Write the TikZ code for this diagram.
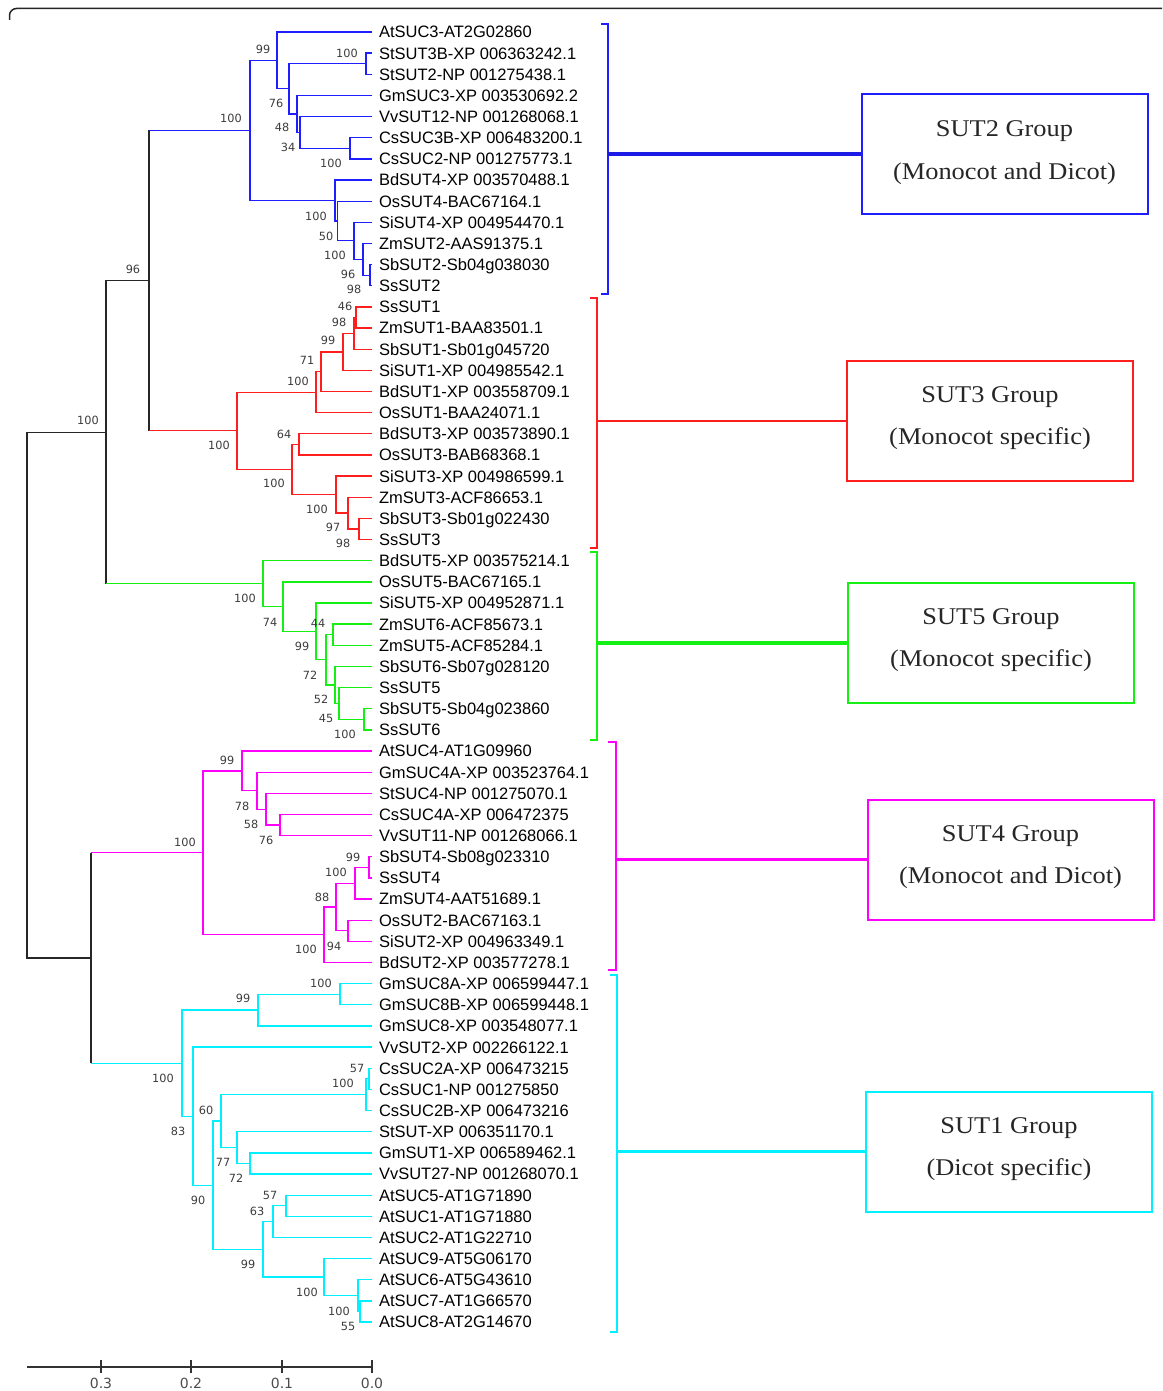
\documentclass[tikz,border=0pt]{standalone}
\usepackage{fontspec}
\newfontfamily\leaffam{Liberation Sans}
\newfontfamily\bsfam{DejaVu Sans}
\newfontfamily\grpfam[FakeStretch=1.1]{Liberation Serif}
\definecolor{tb}{RGB}{30,30,255}
\definecolor{tr}{RGB}{255,30,30}
\definecolor{tg}{RGB}{20,240,20}
\definecolor{tm}{RGB}{255,0,255}
\definecolor{tc}{RGB}{0,240,255}
\definecolor{bsgray}{RGB}{60,60,60}
\definecolor{axgray}{RGB}{50,50,50}
\newcommand\mkclade[4]{\draw[br,#1] (#3) -| (#2) |- (#4);}
\begin{document}
\begin{tikzpicture}[x=1pt,y=-1pt,
  br/.style={line width=1.3pt},
  tk/.style={br,black!85},
  leaf/.style={anchor=west,inner xsep=7pt,inner ysep=0pt,outer sep=0pt,text=black,
    font={\leaffam\fontsize{16.5pt}{18pt}\selectfont},text height=11.8pt,text depth=0pt},
  bs/.style={inner sep=0pt,text=bsgray,font={\bsfam\fontsize{11.3pt}{13pt}\selectfont}},
  brk/.style={line width=1.6pt},
  conn/.style={line width=#1},
  gbox/.style={draw,line width=2pt,minimum width=286pt,minimum height=120pt,inner sep=0pt},
  gtxt/.style={anchor=base,inner sep=0pt,text=black!85,font={\grpfam\fontsize{24pt}{26pt}\selectfont}},
  axl/.style={inner sep=0pt,text=black!70,font={\bsfam\fontsize{14pt}{16pt}\selectfont}}
]
\useasboundingbox (0,0) rectangle (1162,1391);
% top frame line
\draw[line width=1.5pt,black!85,rounded corners=7pt] (9.5,20) |- (1162,8.5);

% ---------- leaves ----------
\node[leaf] (l1) at (372,32.00) {AtSUC3-AT2G02860};
\node[leaf] (l2) at (372,53.15) {StSUT3B-XP 006363242.1};
\node[leaf] (l3) at (372,74.30) {StSUT2-NP 001275438.1};
\node[leaf] (l4) at (372,95.44) {GmSUC3-XP 003530692.2};
\node[leaf] (l5) at (372,116.59) {VvSUT12-NP 001268068.1};
\node[leaf] (l6) at (372,137.74) {CsSUC3B-XP 006483200.1};
\node[leaf] (l7) at (372,158.89) {CsSUC2-NP 001275773.1};
\node[leaf] (l8) at (372,180.04) {BdSUT4-XP 003570488.1};
\node[leaf] (l9) at (372,201.18) {OsSUT4-BAC67164.1};
\node[leaf] (l10) at (372,222.33) {SiSUT4-XP 004954470.1};
\node[leaf] (l11) at (372,243.48) {ZmSUT2-AAS91375.1};
\node[leaf] (l12) at (372,264.63) {SbSUT2-Sb04g038030};
\node[leaf] (l13) at (372,285.78) {SsSUT2};
\node[leaf] (l14) at (372,306.92) {SsSUT1};
\node[leaf] (l15) at (372,328.07) {ZmSUT1-BAA83501.1};
\node[leaf] (l16) at (372,349.22) {SbSUT1-Sb01g045720};
\node[leaf] (l17) at (372,370.37) {SiSUT1-XP 004985542.1};
\node[leaf] (l18) at (372,391.52) {BdSUT1-XP 003558709.1};
\node[leaf] (l19) at (372,412.66) {OsSUT1-BAA24071.1};
\node[leaf] (l20) at (372,433.81) {BdSUT3-XP 003573890.1};
\node[leaf] (l21) at (372,454.96) {OsSUT3-BAB68368.1};
\node[leaf] (l22) at (372,476.11) {SiSUT3-XP 004986599.1};
\node[leaf] (l23) at (372,497.26) {ZmSUT3-ACF86653.1};
\node[leaf] (l24) at (372,518.40) {SbSUT3-Sb01g022430};
\node[leaf] (l25) at (372,539.55) {SsSUT3};
\node[leaf] (l26) at (372,560.70) {BdSUT5-XP 003575214.1};
\node[leaf] (l27) at (372,581.85) {OsSUT5-BAC67165.1};
\node[leaf] (l28) at (372,603.00) {SiSUT5-XP 004952871.1};
\node[leaf] (l29) at (372,624.14) {ZmSUT6-ACF85673.1};
\node[leaf] (l30) at (372,645.29) {ZmSUT5-ACF85284.1};
\node[leaf] (l31) at (372,666.44) {SbSUT6-Sb07g028120};
\node[leaf] (l32) at (372,687.59) {SsSUT5};
\node[leaf] (l33) at (372,708.74) {SbSUT5-Sb04g023860};
\node[leaf] (l34) at (372,729.88) {SsSUT6};
\node[leaf] (l35) at (372,751.03) {AtSUC4-AT1G09960};
\node[leaf] (l36) at (372,772.18) {GmSUC4A-XP 003523764.1};
\node[leaf] (l37) at (372,793.33) {StSUC4-NP 001275070.1};
\node[leaf] (l38) at (372,814.48) {CsSUC4A-XP 006472375};
\node[leaf] (l39) at (372,835.62) {VvSUT11-NP 001268066.1};
\node[leaf] (l40) at (372,856.77) {SbSUT4-Sb08g023310};
\node[leaf] (l41) at (372,877.92) {SsSUT4};
\node[leaf] (l42) at (372,899.07) {ZmSUT4-AAT51689.1};
\node[leaf] (l43) at (372,920.22) {OsSUT2-BAC67163.1};
\node[leaf] (l44) at (372,941.36) {SiSUT2-XP 004963349.1};
\node[leaf] (l45) at (372,962.51) {BdSUT2-XP 003577278.1};
\node[leaf] (l46) at (372,983.66) {GmSUC8A-XP 006599447.1};
\node[leaf] (l47) at (372,1004.81) {GmSUC8B-XP 006599448.1};
\node[leaf] (l48) at (372,1025.96) {GmSUC8-XP 003548077.1};
\node[leaf] (l49) at (372,1047.10) {VvSUT2-XP 002266122.1};
\node[leaf] (l50) at (372,1068.25) {CsSUC2A-XP 006473215};
\node[leaf] (l51) at (372,1089.40) {CsSUC1-NP 001275850};
\node[leaf] (l52) at (372,1110.55) {CsSUC2B-XP 006473216};
\node[leaf] (l53) at (372,1131.70) {StSUT-XP 006351170.1};
\node[leaf] (l54) at (372,1152.84) {GmSUT1-XP 006589462.1};
\node[leaf] (l55) at (372,1173.99) {VvSUT27-NP 001268070.1};
\node[leaf] (l56) at (372,1195.14) {AtSUC5-AT1G71890};
\node[leaf] (l57) at (372,1216.29) {AtSUC1-AT1G71880};
\node[leaf] (l58) at (372,1237.44) {AtSUC2-AT1G22710};
\node[leaf] (l59) at (372,1258.58) {AtSUC9-AT5G06170};
\node[leaf] (l60) at (372,1279.73) {AtSUC6-AT5G43610};
\node[leaf] (l61) at (372,1300.88) {AtSUC7-AT1G66570};
\node[leaf] (l62) at (372,1322.03) {AtSUC8-AT2G14670};

% ---------- SUT2 clade ----------
\coordinate (a1) at (366,63.73);  \mkclade{tb}{a1}{l2.west}{l3.west}
\coordinate (a2) at (350,148.32); \mkclade{tb}{a2}{l6.west}{l7.west}
\coordinate (a3) at (300,132.45); \mkclade{tb}{a3}{l5.west}{a2}
\coordinate (a4) at (297,113.95); \mkclade{tb}{a4}{l4.west}{a3}
\coordinate (a5) at (289,88.84);  \mkclade{tb}{a5}{a1}{a4}
\coordinate (a6) at (277,60.42);  \mkclade{tb}{a6}{l1.west}{a5}
\coordinate (a7) at (370,275.20); \mkclade{tb}{a7}{l12.west}{l13.west}
\coordinate (a8) at (363,259.34); \mkclade{tb}{a8}{l11.west}{a7}
\coordinate (a9) at (354,240.84); \mkclade{tb}{a9}{l10.west}{a8}
\coordinate (a10) at (337.5,221.01); \mkclade{tb}{a10}{l9.west}{a9}
\coordinate (a11) at (335,200.52); \mkclade{tb}{a11}{l8.west}{a10}
\coordinate (a12) at (250,130.47); \mkclade{tb}{a12}{a6}{a11}

% ---------- SUT3 clade ----------
\coordinate (b1) at (356,317.50); \mkclade{tr}{b1}{l14.west}{l15.west}
\coordinate (b2) at (354,333.36); \mkclade{tr}{b2}{b1}{l16.west}
\coordinate (b3) at (343,351.87); \mkclade{tr}{b3}{b2}{l17.west}
\coordinate (b4) at (321,371.70); \mkclade{tr}{b4}{b3}{l18.west}
\coordinate (b5) at (316,392.18); \mkclade{tr}{b5}{b4}{l19.west}
\coordinate (b6) at (299,444.39); \mkclade{tr}{b6}{l20.west}{l21.west}
\coordinate (b7) at (359,528.98); \mkclade{tr}{b7}{l24.west}{l25.west}
\coordinate (b8) at (348,513.12); \mkclade{tr}{b8}{l23.west}{b7}
\coordinate (b9) at (336,494.62); \mkclade{tr}{b9}{l22.west}{b8}
\coordinate (b10) at (292,469.50); \mkclade{tr}{b10}{b6}{b9}
\coordinate (b11) at (237,430.84); \mkclade{tr}{b11}{b5}{b10}

% ---------- SUT5 clade ----------
\coordinate (c1) at (364,719.31); \mkclade{tg}{c1}{l33.west}{l34.west}
\coordinate (c2) at (339,703.45); \mkclade{tg}{c2}{l32.west}{c1}
\coordinate (c3) at (335,684.95); \mkclade{tg}{c3}{l31.west}{c2}
\coordinate (c4) at (333,634.72); \mkclade{tg}{c4}{l29.west}{l30.west}
\coordinate (c5) at (326,659.83); \mkclade{tg}{c5}{c4}{c3}
\coordinate (c6) at (316,631.42); \mkclade{tg}{c6}{l28.west}{c5}
\coordinate (c7) at (283,606.63); \mkclade{tg}{c7}{l27.west}{c6}
\coordinate (c8) at (263,583.67); \mkclade{tg}{c8}{l26.west}{c7}

% ---------- SUT4 clade ----------
\coordinate (d1) at (280,825.05); \mkclade{tm}{d1}{l38.west}{l39.west}
\coordinate (d2) at (266,809.19); \mkclade{tm}{d2}{l37.west}{d1}
\coordinate (d3) at (257,790.69); \mkclade{tm}{d3}{l36.west}{d2}
\coordinate (d4) at (242,770.86); \mkclade{tm}{d4}{l35.west}{d3}
\coordinate (d5) at (369,867.35); \mkclade{tm}{d5}{l40.west}{l41.west}
\coordinate (d6) at (355,883.21); \mkclade{tm}{d6}{d5}{l42.west}
\coordinate (d7) at (348,930.79); \mkclade{tm}{d7}{l43.west}{l44.west}
\coordinate (d8) at (336,907.00); \mkclade{tm}{d8}{d6}{d7}
\coordinate (d9) at (324,934.76); \mkclade{tm}{d9}{d8}{l45.west}
\coordinate (d10) at (203,852.81); \mkclade{tm}{d10}{d4}{d9}

% ---------- SUT1 clade ----------
\coordinate (e1) at (340,994.24);  \mkclade{tc}{e1}{l46.west}{l47.west}
\coordinate (e2) at (258,1010.10); \mkclade{tc}{e2}{e1}{l48.west}
\coordinate (e3) at (369,1078.83); \mkclade{tc}{e3}{l50.west}{l51.west}
\coordinate (e4) at (366,1094.69); \mkclade{tc}{e4}{e3}{l52.west}
\coordinate (e5) at (250,1163.42); \mkclade{tc}{e5}{l54.west}{l55.west}
\coordinate (e6) at (237,1147.56); \mkclade{tc}{e6}{l53.west}{e5}
\coordinate (e7) at (221,1121.13); \mkclade{tc}{e7}{e4}{e6}
\coordinate (e8) at (286,1205.72); \mkclade{tc}{e8}{l56.west}{l57.west}
\coordinate (e9) at (273,1221.58); \mkclade{tc}{e9}{e8}{l58.west}
\coordinate (e10) at (360,1311.46); \mkclade{tc}{e10}{l61.west}{l62.west}
\coordinate (e11) at (358,1295.60); \mkclade{tc}{e11}{l60.west}{e10}
\coordinate (e12) at (324,1277.09); \mkclade{tc}{e12}{l59.west}{e11}
\coordinate (e13) at (263,1249.34); \mkclade{tc}{e13}{e9}{e12}
\coordinate (e14) at (213,1185.24); \mkclade{tc}{e14}{e7}{e13}
\coordinate (e15) at (193,1116.17); \mkclade{tc}{e15}{l49.west}{e14}
\coordinate (e16) at (182,1063.14); \mkclade{tc}{e16}{e2}{e15}

% ---------- backbone ----------
\coordinate (r1) at (149,280.66);
\coordinate (r2) at (106,432.16);
\coordinate (r3) at (91,957.98);
\coordinate (r0) at (27,695.07);
\draw[tk] (a12 -| r1) -- (b11 -| r1);
\draw[br,tb] (a12 -| r1) -- (a12);
\draw[br,tr] (b11 -| r1) -- (b11);
\draw[tk] (r1) -| (r2) |- (c8 -| r2);
\draw[br,tg] (c8 -| r2) -- (c8);
\draw[tk] (d10 -| r3) -- (e16 -| r3);
\draw[br,tm] (d10 -| r3) -- (d10);
\draw[br,tc] (e16 -| r3) -- (e16);
\draw[tk] (r2) -| (r0) |- (r3);

% ---------- bootstrap values ----------
\node[bs] (s1) at (263,49) {99};
\node[bs] (s2) at (347,53) {100};
\node[bs] (s3) at (276,103) {76};
\node[bs] (s4) at (282,127) {48};
\node[bs] (s5) at (288,147) {34};
\node[bs] (s6) at (331,163) {100};
\node[bs] (s7) at (231,118) {100};
\node[bs] (s8) at (316,216) {100};
\node[bs] (s9) at (326,236) {50};
\node[bs] (s10) at (335,255) {100};
\node[bs] (s11) at (348,274) {96};
\node[bs] (s12) at (354,289) {98};
\node[bs] (s13) at (133,269) {96};
\node[bs] (s14) at (88,420) {100};
\node[bs] (s15) at (345,306) {46};
\node[bs] (s16) at (339,322) {98};
\node[bs] (s17) at (328,340) {99};
\node[bs] (s18) at (307,360) {71};
\node[bs] (s19) at (298,381) {100};
\node[bs] (s20) at (219,445) {100};
\node[bs] (s21) at (284,434) {64};
\node[bs] (s22) at (274,483) {100};
\node[bs] (s23) at (317,509) {100};
\node[bs] (s24) at (333,527) {97};
\node[bs] (s25) at (343,543) {98};
\node[bs] (s26) at (245,598) {100};
\node[bs] (s27) at (270,622) {74};
\node[bs] (s28) at (318,623) {44};
\node[bs] (s29) at (302,646) {99};
\node[bs] (s30) at (310,675) {72};
\node[bs] (s31) at (321,699) {52};
\node[bs] (s32) at (326,718) {45};
\node[bs] (s33) at (345,734) {100};
\node[bs] (s34) at (227,760) {99};
\node[bs] (s35) at (185,842) {100};
\node[bs] (s36) at (242,806) {78};
\node[bs] (s37) at (251,824) {58};
\node[bs] (s38) at (266,840) {76};
\node[bs] (s39) at (353,857) {99};
\node[bs] (s40) at (336,872) {100};
\node[bs] (s41) at (322,897) {88};
\node[bs] (s42) at (334,946) {94};
\node[bs] (s43) at (306,949) {100};
\node[bs] (s44) at (321,983) {100};
\node[bs] (s45) at (243,998) {99};
\node[bs] (s46) at (163,1078) {100};
\node[bs] (s47) at (357,1068) {57};
\node[bs] (s48) at (343,1083) {100};
\node[bs] (s49) at (206,1110) {60};
\node[bs] (s50) at (178,1131) {83};
\node[bs] (s51) at (223,1162) {77};
\node[bs] (s52) at (236,1178) {72};
\node[bs] (s53) at (198,1200) {90};
\node[bs] (s54) at (270,1195) {57};
\node[bs] (s55) at (257,1211) {63};
\node[bs] (s56) at (248,1264) {99};
\node[bs] (s57) at (307,1292) {100};
\node[bs] (s58) at (339,1311) {100};
\node[bs] (s59) at (348,1326) {55};

% ---------- group brackets ----------
\draw[brk,tb] (601,24) -- (608,24) -- (608,294) -- (601,294);
\draw[brk,tr] (590,298) -- (597,298) -- (597,548) -- (590,548);
\draw[brk,tg] (590,552) -- (597,552) -- (597,740) -- (590,740);
\draw[brk,tm] (608,742) -- (616,742) -- (616,970) -- (608,970);
\draw[brk,tc] (610,975) -- (617,975) -- (617,1332) -- (610,1332);
\coordinate (m2) at (608,154);
\coordinate (m3) at (597,421);
\coordinate (m5) at (597,643);
\coordinate (m4) at (616,859.5);
\coordinate (m1) at (617,1151.5);

% ---------- group boxes ----------
\node[gbox,draw=tb] (g2) at (1004.5,154) {};
\node[gbox,draw=tr] (g3) at (990,421) {};
\node[gbox,draw=tg] (g5) at (991,643) {};
\node[gbox,draw=tm] (g4) at (1010.5,859.5) {};
\node[gbox,draw=tc] (g1) at (1009,1151.5) {};
\draw[conn=4pt,tb!90!black] (m2) -- (g2.west);
\draw[conn=2.2pt,tr] (m3) -- (g3.west);
\draw[conn=3.6pt,tg] (m5) -- (g5.west);
\draw[conn=3pt,tm] (m4) -- (g4.west);
\draw[conn=2.6pt,tc] (m1) -- (g1.west);

\node[gtxt] (g2a) at (1004.5,137) {SUT2 Group};
\node[gtxt] (g2b) at (1004.5,179) {(Monocot and Dicot)};
\node[gtxt] (g3a) at (990,402) {SUT3 Group};
\node[gtxt] (g3b) at (990,444) {(Monocot specific)};
\node[gtxt] (g5a) at (991,624) {SUT5 Group};
\node[gtxt] (g5b) at (991,666) {(Monocot specific)};
\node[gtxt] (g4a) at (1010.5,841) {SUT4 Group};
\node[gtxt] (g4b) at (1010.5,883) {(Monocot and Dicot)};
\node[gtxt] (g1a) at (1009,1133) {SUT1 Group};
\node[gtxt] (g1b) at (1009,1175) {(Dicot specific)};

% ---------- scale axis ----------
\coordinate (x0) at (27,1367);
\coordinate (x4) at (372,1367);
\draw[line width=1.8pt,axgray] (x0) -- (x4);
\foreach \tx/\tl/\nm in {101/0.3/t3,191/0.2/t2,282/0.1/t1,372/0.0/t0}{
  \draw[line width=1.6pt,axgray] (\tx,1360) -- (\tx,1373);
  \node[axl] (\nm) at (\tx,1383) {\tl};
}
\end{tikzpicture}
\end{document}
